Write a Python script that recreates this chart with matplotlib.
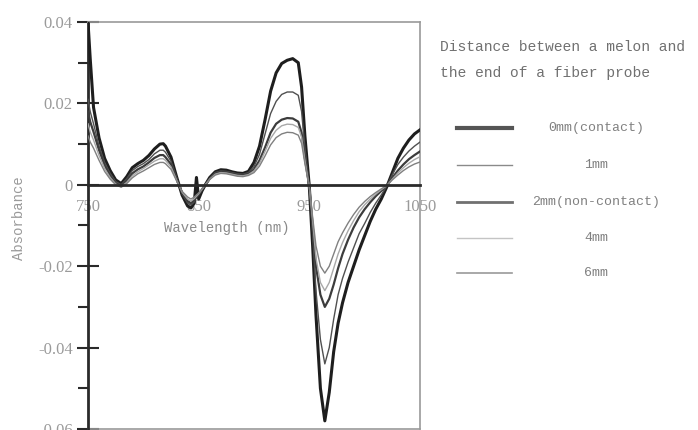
import matplotlib
matplotlib.use("Agg")
import matplotlib.pyplot as plt
from matplotlib.lines import Line2D
from matplotlib.ticker import MultipleLocator, FixedLocator

wavelength = [750, 752, 755, 760, 765, 770, 775, 780, 785, 790, 795, 800, 805, 810, 815, 818, 820, 825,
              830, 835, 840, 843, 846, 848, 850, 853, 856, 860, 865, 870, 875, 880, 885, 890, 895,
              900, 905, 910, 915, 920, 925, 930, 935, 940, 943, 946, 950, 953, 956, 960, 964, 968,
              972, 976, 980, 985, 990, 995, 1000, 1005, 1010, 1015, 1020, 1025, 1030, 1035, 1040,
              1045, 1050]

abs_0mm = [0.040, 0.031, 0.019, 0.0115, 0.0065, 0.0035, 0.0012, 0.0003, 0.0020, 0.0042, 0.0052,
           0.0060, 0.0072, 0.0088, 0.0100, 0.0101, 0.0095, 0.0068, 0.0020, -0.0025, -0.0052,
           -0.0057, -0.0045, 0.0018, -0.0035, -0.0015, 0.0, 0.0018, 0.0032, 0.0037, 0.0036,
           0.0032, 0.0029, 0.0028, 0.0033, 0.0055, 0.0095, 0.0160, 0.0230, 0.0275, 0.0298,
           0.0306, 0.0310, 0.0300, 0.0240, 0.0120, -0.0005, -0.015, -0.032, -0.050, -0.058,
           -0.051, -0.041, -0.034, -0.029, -0.024, -0.020, -0.016, -0.0125, -0.009, -0.006,
           -0.0035, -0.0005, 0.003, 0.0065, 0.0090, 0.0110, 0.0125, 0.0135]

abs_1mm = [0.021, 0.018, 0.015, 0.0095, 0.0055, 0.0028, 0.0008, 0.0, 0.0015, 0.0035, 0.0045,
           0.0052, 0.0062, 0.0076, 0.0085, 0.0085, 0.0080, 0.0058, 0.0018, -0.0022, -0.0045,
           -0.0050, -0.0042, -0.0030, -0.0025, -0.0012, 0.0, 0.0016, 0.0030, 0.0034, 0.0033,
           0.0030, 0.0027, 0.0026, 0.0030, 0.0045, 0.0075, 0.0125, 0.0175, 0.0205, 0.0222,
           0.0228, 0.0228, 0.0220, 0.0180, 0.0090, -0.0005, -0.012, -0.026, -0.038, -0.044,
           -0.040, -0.033, -0.027, -0.023, -0.019, -0.0155, -0.012, -0.0095, -0.0068, -0.0045,
           -0.0025, -0.0003, 0.0025, 0.0050, 0.0068, 0.0083, 0.0095, 0.0105]

abs_2mm = [0.018, 0.0155, 0.013, 0.0085, 0.0048, 0.0022, 0.0004, -0.0003, 0.0010, 0.0028, 0.0038,
           0.0045, 0.0055, 0.0066, 0.0073, 0.0073, 0.0068, 0.0050, 0.0015, -0.0020, -0.0040,
           -0.0045, -0.0038, -0.0030, -0.0024, -0.0012, 0.0, 0.0015, 0.0028, 0.0032, 0.0031,
           0.0028, 0.0025, 0.0024, 0.0027, 0.0038, 0.0060, 0.0092, 0.0128, 0.0150, 0.0160,
           0.0164, 0.0163, 0.0155, 0.0128, 0.0065, -0.0005, -0.010, -0.020, -0.027, -0.030,
           -0.028, -0.0245, -0.0205, -0.017, -0.0135, -0.0105, -0.008, -0.006, -0.0043, -0.0028,
           -0.0015, -0.0002, 0.0017, 0.0035, 0.0050, 0.0063, 0.0073, 0.0082]

abs_4mm = [0.015, 0.013, 0.011, 0.0072, 0.0040, 0.0018, 0.0002, -0.0005, 0.0006, 0.0022, 0.0032,
           0.0040, 0.0049, 0.0058, 0.0064, 0.0064, 0.0060, 0.0044, 0.0012, -0.0018, -0.0035,
           -0.0040, -0.0034, -0.0028, -0.0022, -0.0011, 0.0, 0.0014, 0.0026, 0.0030, 0.0029,
           0.0026, 0.0023, 0.0022, 0.0025, 0.0034, 0.0053, 0.0082, 0.0114, 0.0134, 0.0145,
           0.0149, 0.0148, 0.0141, 0.0117, 0.0060, -0.0005, -0.009, -0.018, -0.024, -0.026,
           -0.024, -0.0205, -0.017, -0.0142, -0.0113, -0.0088, -0.0066, -0.0049, -0.0035, -0.0023,
           -0.0012, -0.0002, 0.0014, 0.0029, 0.0042, 0.0053, 0.0062, 0.0069]

abs_6mm = [0.012, 0.0105, 0.0090, 0.0060, 0.0033, 0.0014, 0.0, -0.0006, 0.0003, 0.0017, 0.0027,
           0.0034, 0.0042, 0.0050, 0.0055, 0.0055, 0.0052, 0.0038, 0.0010, -0.0016, -0.0030,
           -0.0035, -0.0030, -0.0025, -0.0020, -0.0010, 0.0, 0.0013, 0.0024, 0.0028, 0.0027,
           0.0024, 0.0021, 0.0020, 0.0023, 0.0030, 0.0046, 0.0071, 0.0098, 0.0116, 0.0125,
           0.0129, 0.0128, 0.0122, 0.0102, 0.0052, -0.0005, -0.008, -0.015, -0.020, -0.0217,
           -0.020, -0.017, -0.014, -0.0118, -0.0094, -0.0073, -0.0055, -0.0041, -0.0029, -0.0019,
           -0.0010, -0.0002, 0.0012, 0.0024, 0.0035, 0.0044, 0.0051, 0.0056]

series_labels = ["0mm(contact)", "1mm", "2mm(non-contact)", "4mm", "6mm"]
x_ticks = [750, 850, 950, 1050]
y_ticks = [-0.06, -0.04, -0.02, 0, 0.02, 0.04]
y_tick_labels = ["-0.06", "-0.04", "-0.02", "0", "0.02", "0.04"]

series = [abs_0mm, abs_1mm, abs_2mm, abs_4mm, abs_6mm]
curve_colors = ["#1e1e1e", "#505050", "#3c3c3c", "#a8a8a8", "#808080"]
curve_widths = [2.2, 1.0, 1.6, 1.0, 1.0]
legend_colors = ["#555555", "#8a8a8a", "#707070", "#c4c4c4", "#9a9a9a"]
legend_widths = [3.0, 1.0, 2.0, 1.0, 1.2]

W, H = 698, 430
fig = plt.figure(figsize=(W / 100, H / 100), dpi=100)
ax = fig.add_axes([88 / W, 1 - 429 / H, (420 - 88) / W, (429 - 22) / H])
ax.set_xlim(750, 1050)
ax.set_ylim(-0.06, 0.04)

for vals, c, lw in zip(series, curve_colors, curve_widths):
    ax.plot(wavelength, vals, color=c, lw=lw, solid_joinstyle="round", zorder=3)

for s in ["top", "right"]:
    ax.spines[s].set_color("#9a9a9a")
    ax.spines[s].set_linewidth(1.2)
ax.spines["left"].set_color("#2a2a2a")
ax.spines["left"].set_linewidth(2.0)
ax.spines["bottom"].set_position(("data", 0))
ax.spines["bottom"].set_color("#2a2a2a")
ax.spines["bottom"].set_linewidth(2.0)
ax.spines["bottom"].set_zorder(4)
ax.plot([0, 1], [0, 0], transform=ax.transAxes, color="#9a9a9a", lw=1.2, clip_on=False)

ax.yaxis.set_major_locator(FixedLocator(y_ticks))
ax.set_yticklabels(y_tick_labels)
ax.yaxis.set_minor_locator(MultipleLocator(0.01))
ax.tick_params(axis="y", which="major", direction="inout", length=16, width=1.5,
               color="#2a2a2a", pad=3, labelsize=12, labelcolor="#9a9a9a")
ax.tick_params(axis="y", which="minor", direction="out", length=7, width=1.5, color="#2a2a2a")
ax.xaxis.set_major_locator(FixedLocator(x_ticks))
ax.tick_params(axis="x", which="major", length=0, pad=10, labelsize=12, labelcolor="#9a9a9a")
for lab in ax.get_xticklabels() + ax.get_yticklabels():
    lab.set_fontfamily("Liberation Serif")

mono = "Liberation Mono"
fig.text(227 / W, 1 - 228 / H, "Wavelength (nm)", ha="center", va="center",
         family=mono, fontsize=10, color="#8a8a8a")
fig.text(19 / W, 1 - 218 / H, "Absorbance", ha="center", va="center", rotation=90,
         family=mono, fontsize=10, color="#9a9a9a")

fig.text(440 / W, 1 - 47 / H, "Distance between a melon and", ha="left", va="center",
         family=mono, fontsize=10.5, color="#707070")
fig.text(440 / W, 1 - 73 / H, "the end of a fiber probe", ha="left", va="center",
         family=mono, fontsize=10.5, color="#707070")

legend_y = [128, 165, 202, 238, 273]
for lab, c, lw, yy in zip(series_labels, legend_colors, legend_widths, legend_y):
    fig.add_artist(Line2D([457 / W, 512 / W], [1 - yy / H, 1 - yy / H], color=c, lw=lw))
    fig.text(596 / W, 1 - yy / H, lab, ha="center", va="center", family=mono,
             fontsize=9.5, color="#808080")

fig.savefig("out.png", dpi=100)
